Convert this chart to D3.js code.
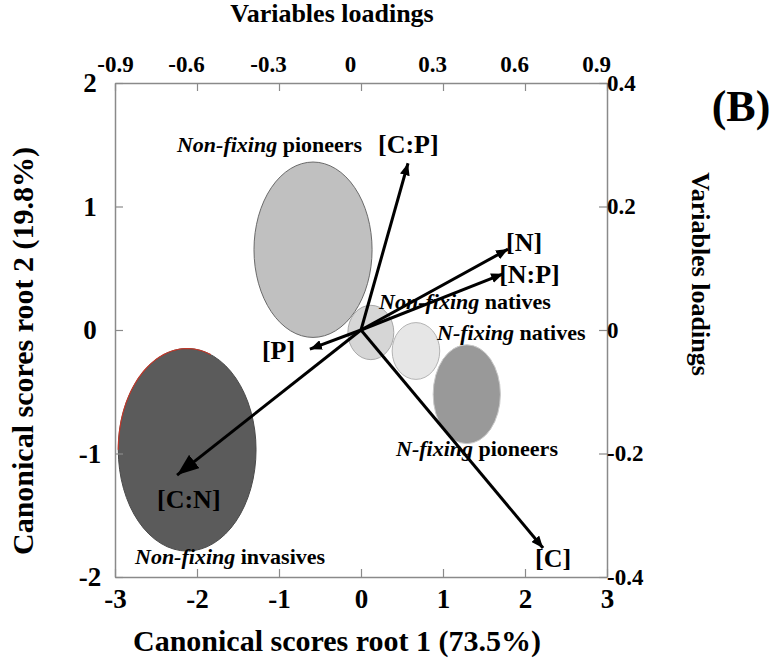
<!DOCTYPE html>
<html><head><meta charset="utf-8">
<script src="https://cdn.jsdelivr.net/npm/d3@7"></script>
<style>
html,body{margin:0;padding:0;background:#fff;}
text{font-family:"Liberation Serif","Times New Roman",serif;font-weight:bold;fill:#000;}
</style></head>
<body><svg id="c" width="777" height="667"></svg>
<script>
// ---- data ----
const groups = ["Non-fixing invasives","Non-fixing pioneers","Non-fixing natives","N-fixing natives","N-fixing pioneers"];
const groupCx = [-2.12, -0.585, 0.12, 0.67, 1.29];   // canonical root 1 centroid
const groupCy = [-0.97, 0.65, -0.02, -0.17, -0.52];  // canonical root 2 centroid
const groupRx = [0.84, 0.72, 0.28, 0.29, 0.41];       // spread on root 1
const groupRy = [0.82, 0.71, 0.22, 0.23, 0.40];       // spread on root 2
const variables = ["[C:P]","[N]","[N:P]","[P]","[C:N]","[C]"];
const loadX = [0.172, 0.538, 0.52, -0.187, -0.673, 0.666];
const loadY = [0.27, 0.131, 0.091, -0.031, -0.235, -0.353];
const scoreTicksX = [-3,-2,-1,0,1,2,3];
const scoreTicksY = [-2,-1,0,1,2];
const loadTicksX = [-0.9,-0.6,-0.3,0,0.3,0.6,0.9];
const loadTicksY = [-0.4,-0.2,0,0.2,0.4];

// ---- styles / layout ----
const groupFill = ["#5b5b5b","#c0c0c0","#d6d6d6","#e6e6e6","#999999"];
const groupStroke = ["#4a4a4a","#6a6a6a","#a8a8a8","#b4b4b4","#c8c8c8"];
const groupLabelAt = [[-2.756,-1.895],[-2.244,1.441],[0.22,0.17],[0.927,-0.081],[0.427,-1.02]];
const varLabelOff = [[-30,-10],[-2,2],[-4,9],[-48,10],[-20,33],[-8,19]];
const headBig = [false,false,false,false,true,false];

const svg = d3.select("#c");
const L=115,R=607,T=83,B=577;
const x = d3.scaleLinear().domain([-3,3]).range([L,R]);
const y = d3.scaleLinear().domain([-2,2]).range([B,T]);
const xl = d3.scaleLinear().domain([-0.9,0.9]).range([L,R]);
const yl = d3.scaleLinear().domain([-0.4,0.4]).range([B,T]);
const fmt = d => String(d);

// markers
const defs = svg.append("defs");
[["hs",12,10],["hb",22,17]].forEach(([id,len,w])=>{
  defs.append("marker").attr("id",id).attr("markerUnits","userSpaceOnUse")
    .attr("viewBox",`0 ${-w/2} ${len} ${w}`).attr("refX",len).attr("refY",0)
    .attr("markerWidth",len).attr("markerHeight",w).attr("orient","auto")
    .append("path").attr("d",`M0,${-w/2}L${len},0L0,${w/2}Z`).attr("fill","#000");
});

// ellipses
const g = svg.append("g");
g.selectAll("ellipse").data(groups).join("ellipse")
  .attr("cx",(d,i)=>x(groupCx[i])).attr("cy",(d,i)=>y(groupCy[i]))
  .attr("rx",(d,i)=>x(groupRx[i])-x(0)).attr("ry",(d,i)=>y(0)-y(groupRy[i]))
  .attr("fill",(d,i)=>groupFill[i]).attr("stroke",(d,i)=>groupStroke[i]).attr("stroke-width",1);
// reddish rim on invasives (top-left)
{
  const cx=x(groupCx[0]), cy=y(groupCy[0]), rx=x(groupRx[0])-x(0), ry=y(0)-y(groupRy[0]);
  const pts=d3.range(180,292,2).map(a=>[cx+rx*Math.cos(a*Math.PI/180), cy+ry*Math.sin(a*Math.PI/180)]);
  g.append("path").attr("d",d3.line()(pts)).attr("fill","none").attr("stroke","#c0392b").attr("stroke-width",1.2);
}

// axes
const axc="#8a8a8a";
function styleAxis(sel,fs){
  sel.attr("font-size",fs);
  sel.select(".domain").attr("stroke",axc).attr("stroke-width",1.5);
  sel.selectAll(".tick line").attr("stroke",axc).attr("stroke-width",1.2);
  sel.selectAll(".tick text").attr("font-size",fs).attr("font-family",'"Liberation Serif",serif').attr("font-weight","bold").attr("fill","#000");
}
const ab = svg.append("g").attr("transform",`translate(0,${B})`)
  .call(d3.axisBottom(x).tickValues(scoreTicksX).tickFormat(fmt).tickSizeInner(-8).tickSizeOuter(0).tickPadding(12));
styleAxis(ab,27);
const al = svg.append("g").attr("transform",`translate(${L},0)`)
  .call(d3.axisLeft(y).tickValues(scoreTicksY).tickFormat(fmt).tickSizeInner(-8).tickSizeOuter(0).tickPadding(12));
styleAxis(al,27);
al.selectAll(".tick text").attr("text-anchor","middle").attr("x",-25);
const at = svg.append("g").attr("transform",`translate(0,${T})`)
  .call(d3.axisTop(xl).tickValues(loadTicksX).tickFormat(fmt).tickSizeInner(-8).tickSizeOuter(0).tickPadding(11));
styleAxis(at,23);
at.selectAll(".tick text").attr("dx",(d,i)=>i===0?0:-11);
const ar = svg.append("g").attr("transform",`translate(${R},0)`)
  .call(d3.axisRight(yl).tickValues(loadTicksY).tickFormat(fmt).tickSizeInner(-8).tickSizeOuter(0).tickPadding(0));
styleAxis(ar,23);
ab.select(".domain").raise(); al.select(".domain").raise();

// group labels (first word italic), drawn beneath the arrows
const gl = svg.append("g").selectAll("text").data(groups).join("text")
  .attr("x",(d,i)=>x(groupLabelAt[i][0])).attr("y",(d,i)=>y(groupLabelAt[i][1]))
  .attr("font-size",22);
gl.append("tspan").attr("font-style","italic").text(d=>d.split(" ")[0]);
gl.append("tspan").text(d=>" "+d.split(" ").slice(1).join(" "));

// arrows
const origin=[xl(0),yl(0)];
svg.append("g").selectAll("line").data(variables).join("line")
  .attr("x1",origin[0]).attr("y1",origin[1])
  .attr("x2",(d,i)=>xl(loadX[i])).attr("y2",(d,i)=>yl(loadY[i]))
  .attr("stroke","#000").attr("stroke-width",3)
  .attr("marker-end",(d,i)=>headBig[i]?"url(#hb)":"url(#hs)");

// variable labels
svg.append("g").selectAll("text").data(variables).join("text")
  .attr("x",(d,i)=>xl(loadX[i])+varLabelOff[i][0]).attr("y",(d,i)=>yl(loadY[i])+varLabelOff[i][1])
  .attr("font-size",26).attr("fill",(d,i)=>i===4?"#0d1420":"#000").text(d=>d);

// titles
svg.append("text").attr("x",332).attr("y",22).attr("text-anchor","middle").attr("font-size",26).text("Variables loadings");
svg.append("text").attr("x",337).attr("y",651).attr("text-anchor","middle").attr("font-size",30).text("Canonical scores root 1 (73.5%)");
svg.append("text").attr("transform","translate(33,351) rotate(-90)").attr("text-anchor","middle").attr("font-size",30).text("Canonical scores root 2 (19.8%)");
svg.append("text").attr("transform","translate(692,274) rotate(90)").attr("text-anchor","middle").attr("font-size",26).text("Variables loadings");
svg.append("text").attr("x",741).attr("y",121).attr("text-anchor","middle").attr("font-size",44).text("(B)");
</script></body></html>
